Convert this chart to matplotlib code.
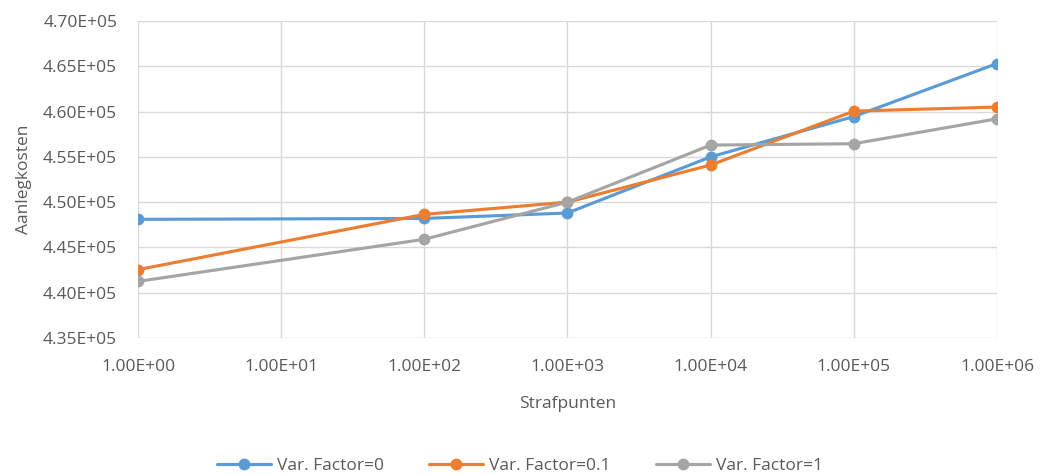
import matplotlib
matplotlib.use("Agg")
import matplotlib.pyplot as plt
from matplotlib.ticker import FixedLocator, FuncFormatter, NullLocator

plt.rcParams['font.family'] = ['Open Sans', 'DejaVu Sans']

x_vals = [1, 100, 1000, 1e4, 1e5, 1e6]
series_names = ["Var. Factor=0", "Var. Factor=0.1", "Var. Factor=1"]
vf0 = [448100, 448200, 448800, 455000, 459450, 465300]
vf01 = [442550, 448650, 450000, 454100, 460050, 460500]
vf1 = [441250, 445900, 450000, 456300, 456450, 459200]
colors = ["#5B9BD5", "#ED7D31", "#A5A5A5"]
x_ticks = [1, 10, 100, 1000, 1e4, 1e5, 1e6]
x_tick_labels = ["1.00E+00", "1.00E+01", "1.00E+02", "1.00E+03", "1.00E+04", "1.00E+05", "1.00E+06"]
y_ticks = [435000, 440000, 445000, 450000, 455000, 460000, 465000, 470000]

text_color = "#595959"
fs = 12.5

fig = plt.figure(figsize=(10.4, 4.74), dpi=100)
ax = fig.add_axes([138/1040, 1-338/474, (997-138)/1040, (338-21)/474])

for vals, name, c in zip([vf0, vf01, vf1], series_names, colors):
    ax.plot(x_vals, vals, color=c, lw=2.25, marker='o', markersize=7.5,
            label=name, solid_capstyle='round', zorder=3)

ax.set_xscale('log')
ax.set_xlim(1, 1e6)
ax.set_ylim(435000, 470000)
ax.xaxis.set_major_locator(FixedLocator(x_ticks))
ax.xaxis.set_minor_locator(NullLocator())
ax.set_xticklabels(x_tick_labels)
ax.set_yticks(y_ticks)
ax.yaxis.set_major_formatter(FuncFormatter(lambda v, p: f"{v/1e5:.2f}E+05"))

ax.grid(True, color="#D9D9D9", lw=1.0, zorder=0)
for s in ax.spines.values():
    s.set_visible(False)
ax.tick_params(length=0, labelsize=fs, colors=text_color)
ax.tick_params(axis='x', pad=15)
ax.tick_params(axis='y', pad=15)

ax.set_xlabel("Strafpunten", fontsize=fs, color=text_color, labelpad=15)
ax.set_ylabel("Aanlegkosten", fontsize=fs, color=text_color, labelpad=8)

leg = fig.legend(loc='center', bbox_to_anchor=(0.5, 1-466/474), ncol=3, frameon=False,
                 fontsize=fs, handlelength=3.1, handletextpad=0.35, columnspacing=2.6,
                 labelcolor=text_color)

fig.savefig("out.png", dpi=100)
